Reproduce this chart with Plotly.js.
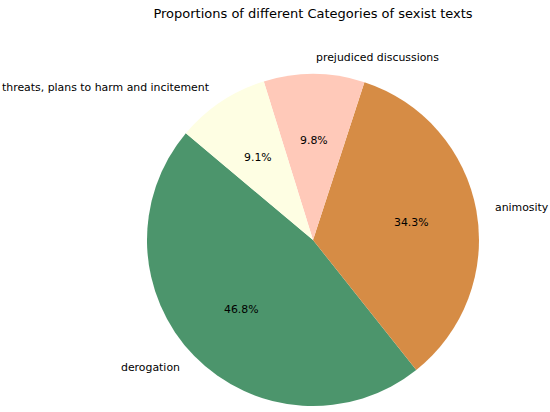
<!DOCTYPE html>
<html>
<head>
<meta charset="utf-8">
<script src="https://cdn.plot.ly/plotly-3.0.1.min.js"></script>
<style>
  html, body { margin: 0; padding: 0; background: #fff; }
  #pie-plot { width: 550px; height: 412px; }
</style>
</head>
<body>
<div id="pie-plot"></div>
<script>
// categories of sexist texts and their share (percent)
var categories = ["derogation", "animosity", "prejudiced discussions", "threats, plans to harm and incitement"];
var shares = [46.8, 34.3, 9.8, 9.1];
var sliceColors = ["#4c956c", "#d68c45", "#ffc9b9", "#fefee3"];

// figure geometry (pixels), matplotlib-like pie: startangle 140, counterclockwise
var W = 550, H = 412;
var cx = 313, cy = 240, R = 166;
var startAngle = 140;

var total = shares.reduce((a, b) => a + b, 0);

// pixel -> paper helpers
function px(x) { return x / W; }
function py(y) { return 1 - y / H; }

// plotly counts rotation clockwise from 12 o'clock; for counterclockwise
// direction it is the edge between the first and second slice
var firstEnd = startAngle + 360 * shares[0] / total;
var rotation = ((90 - firstEnd) % 360 + 360) % 360;
if (rotation > 180) rotation -= 360;

var trace = {
    type: "pie",
    labels: categories,
    values: shares,
    sort: false,
    direction: "counterclockwise",
    rotation: rotation,
    marker: { colors: sliceColors, line: { width: 0 } },
    textinfo: "none",
    hoverinfo: "label+percent",
    showlegend: false,
    domain: { x: [px(cx - R), px(cx + R)], y: [py(cy + R), py(cy - R)] }
};

// labels at 1.1 R, percentages at 0.6 R, as matplotlib does
var annotations = [];
var angle = startAngle;
shares.forEach(function (v, i) {
    var span = 360 * v / total;
    var mid = (angle + span / 2) * Math.PI / 180;
    var c = Math.cos(mid), s = Math.sin(mid);
    annotations.push({
        text: categories[i],
        x: px(cx + 1.1 * R * c), y: py(cy - 1.1 * R * s),
        xref: "paper", yref: "paper",
        xanchor: c > 0 ? "left" : "right", yanchor: "middle",
        showarrow: false,
        font: { family: "DejaVu Sans", size: 10.9, color: "#000" }
    });
    annotations.push({
        text: (100 * v / total).toFixed(1) + "%",
        x: px(cx + 0.6 * R * c), y: py(cy - 0.6 * R * s),
        xref: "paper", yref: "paper",
        xanchor: "center", yanchor: "middle",
        showarrow: false,
        font: { family: "DejaVu Sans", size: 10.9, color: "#000" }
    });
    angle += span;
});

var layout = {
    width: W,
    height: H,
    margin: { l: 0, r: 0, t: 0, b: 0 },
    paper_bgcolor: "#fff",
    title: {
        text: "Proportions of different Categories of sexist texts",
        x: px(cx), xanchor: "center", xref: "paper",
        y: py(13), yanchor: "middle", yref: "container",
        font: { family: "DejaVu Sans", size: 13, color: "#000" }
    },
    annotations: annotations
};

Plotly.newPlot("pie-plot", [trace], layout, { displayModeBar: false, staticPlot: true });
</script>
</body>
</html>
